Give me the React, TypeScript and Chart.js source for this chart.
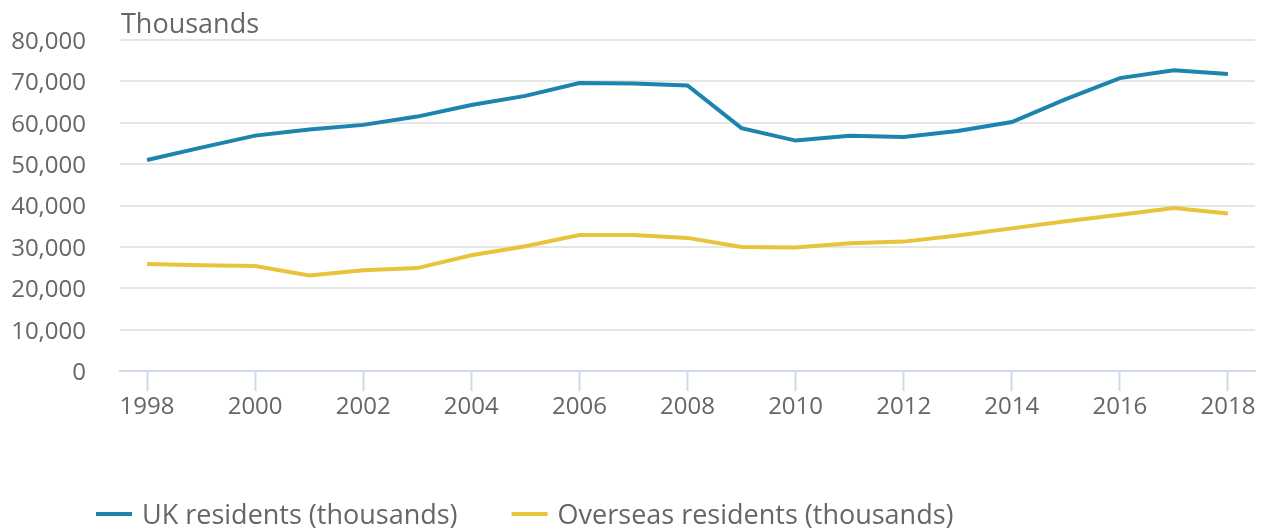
import React, { useEffect, useRef } from "react";
import { Chart, registerables } from "chart.js";

Chart.register(...registerables);

const years = [1998, 1999, 2000, 2001, 2002, 2003, 2004, 2005, 2006, 2007, 2008, 2009, 2010, 2011, 2012, 2013, 2014, 2015, 2016, 2017, 2018];
const ukResidents = [51000, 54000, 56900, 58400, 59500, 61500, 64300, 66500, 69600, 69500, 69000, 58700, 55700, 56900, 56600, 58000, 60200, 65700, 70800, 72700, 71800];
const overseasResidents = [25900, 25600, 25400, 23100, 24400, 24900, 28000, 30200, 32900, 32900, 32200, 30000, 29900, 30900, 31300, 32800, 34500, 36200, 37800, 39400, 38100];
const seriesLabels = ["UK residents (thousands)", "Overseas residents (thousands)"];
const seriesColors = ["#1c84ad", "#e8c33c"];
const yTicks = [0, 10000, 20000, 30000, 40000, 50000, 60000, 70000, 80000];
const unitLabel = "Thousands";

const FONT = "'Open Sans', sans-serif";
const TEXT = "#666666";

const extrasPlugin = {
  id: "extras",
  afterDraw(chart: any) {
    const ctx = chart.ctx;
    const area = chart.chartArea;
    ctx.save();
    ctx.fillStyle = TEXT;
    ctx.textAlign = "left";
    ctx.font = `27px ${FONT}`;
    ctx.textBaseline = "alphabetic";
    ctx.fillText(unitLabel, area.left + 1, 33);

    ctx.textBaseline = "middle";
    let x = 96;
    const y = 514;
    chart.data.datasets.forEach((ds: any) => {
      ctx.strokeStyle = ds.borderColor;
      ctx.lineWidth = 4;
      ctx.beginPath();
      ctx.moveTo(x, y);
      ctx.lineTo(x + 36, y);
      ctx.stroke();
      ctx.fillStyle = TEXT;
      ctx.fillText(ds.label, x + 46, y + 2);
      x += 46 + ctx.measureText(ds.label).width + 54;
    });
    ctx.restore();
  },
};

export default function App() {
  const ref = useRef<HTMLCanvasElement>(null);
  useEffect(() => {
    document.body.style.margin = "0";
    const chart = new Chart(ref.current as HTMLCanvasElement, {
      type: "line",
      data: {
        labels: years,
        datasets: [
          {
            label: seriesLabels[0],
            data: ukResidents,
            borderColor: seriesColors[0],
            backgroundColor: seriesColors[0],
            borderWidth: 4,
            pointRadius: 0,
            tension: 0,
          },
          {
            label: seriesLabels[1],
            data: overseasResidents,
            borderColor: seriesColors[1],
            backgroundColor: seriesColors[1],
            borderWidth: 4,
            pointRadius: 0,
            tension: 0,
          },
        ],
      },
      options: {
        animation: false,
        responsive: true,
        maintainAspectRatio: false,
        layout: { padding: { top: 40, bottom: 105, left: 0, right: 10 } },
        plugins: {
          legend: { display: false },
          tooltip: { enabled: false },
        },
        scales: {
          x: {
            type: "linear",
            min: 1997.5,
            max: 2018.5,
            afterBuildTicks: (s: any) => {
              s.ticks = years.filter((v) => v % 2 === 0).map((v) => ({ value: v }));
            },
            grid: {
              drawOnChartArea: false,
              drawTicks: true,
              tickLength: 20,
              tickColor: "#cfd9ec",
              tickWidth: 2,
            },
            border: { display: true, color: "#cfd9ec", width: 2 },
            ticks: {
              color: TEXT,
              font: { family: FONT, size: 24 },
              padding: 2,
              autoSkip: false,
              maxRotation: 0,
              callback: (v: any) => String(v),
            },
          },
          y: {
            min: 0,
            max: 80000,
            afterBuildTicks: (s: any) => {
              s.ticks = yTicks.map((v) => ({ value: v }));
            },
            afterFit: (s: any) => {
              s.width = 120;
              s.paddingTop = 0;
              s.paddingBottom = 0;
            },
            grid: { color: "#e6e6e6", lineWidth: 2, drawTicks: false },
            border: { display: false },
            ticks: {
              color: TEXT,
              font: { family: FONT, size: 24 },
              padding: 34,
              labelOffset: 2,
              callback: (v: any) => Number(v).toLocaleString("en-GB"),
            },
          },
        },
      },
      plugins: [extrasPlugin],
    });
    return () => chart.destroy();
  }, []);
  return (
    <div style={{ position: "relative", width: 1265, height: 529 }}>
      <canvas ref={ref} />
    </div>
  );
}
